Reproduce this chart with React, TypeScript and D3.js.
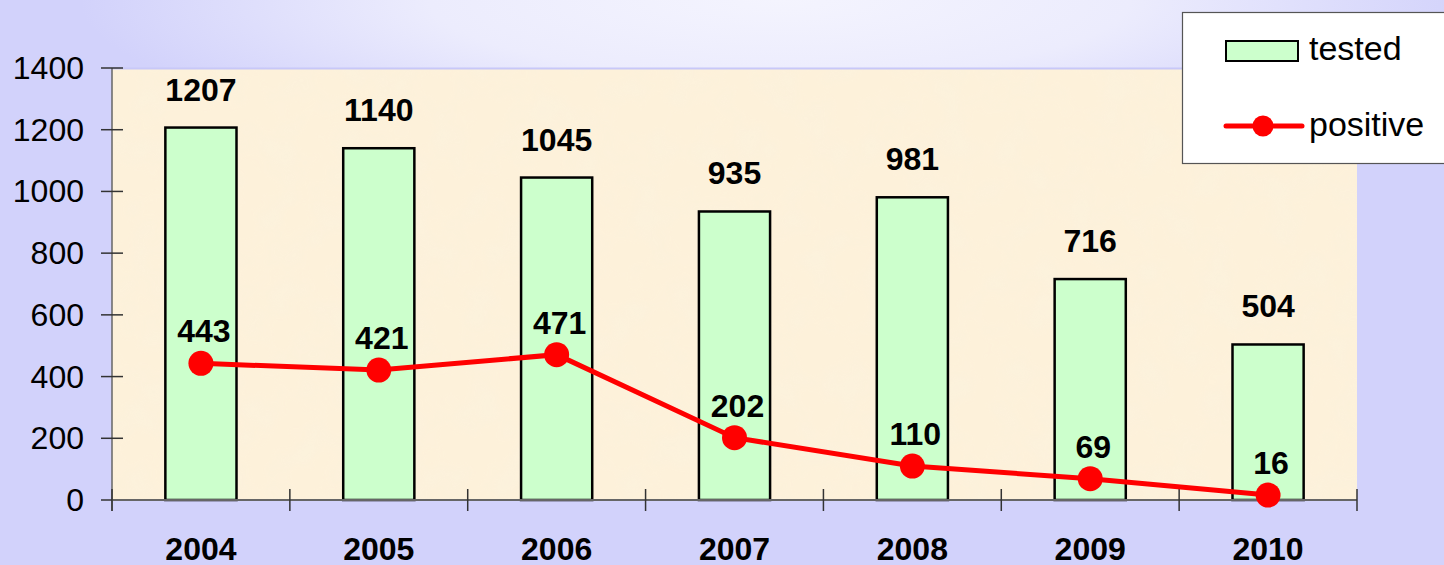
import React from "react";
import * as d3 from "d3";

const years = ["2004", "2005", "2006", "2007", "2008", "2009", "2010"];
const tested = [1207, 1140, 1045, 935, 981, 716, 504];
const positive = [443, 421, 471, 202, 110, 69, 16];
const yTicks = [0, 200, 400, 600, 800, 1000, 1200, 1400];

const W = 1444;
const H = 565;
const M = { left: 112, right: 1357, top: 68, bottom: 500 };
const FONT = "'Liberation Sans', Arial, sans-serif";

export default function App() {
  const x = d3.scaleBand<string>().domain(years).range([M.left, M.right]).paddingInner(0).paddingOuter(0);
  const y = d3.scaleLinear().domain([0, 1400]).range([M.bottom, M.top]);
  const bw = x.bandwidth() * 0.4;
  const cx = (yr: string) => (x(yr) as number) + x.bandwidth() / 2;
  const line = d3
    .line<number>()
    .x((_, i) => cx(years[i]))
    .y((d) => y(d));

  const boundaries = years.map((yr) => x(yr) as number).concat([M.right]);

  return (
    <svg width={W} height={H} style={{ position: "absolute", left: 0, top: 0 }}>
      <defs>
        <radialGradient id="bg" cx="780" cy="0" r="700" gradientUnits="userSpaceOnUse" gradientTransform="translate(780 0) scale(1 0.22) translate(-780 0)">
          <stop offset="0" stopColor="#f4f4fe" />
          <stop offset="0.5" stopColor="#ececfd" />
          <stop offset="1" stopColor="#d2d2fb" />
        </radialGradient>
        <filter id="tex" x="0" y="0" width="100%" height="100%">
          <feTurbulence type="fractalNoise" baseFrequency="0.03" numOctaves="2" seed="3" result="n" />
          <feColorMatrix
            in="n"
            type="matrix"
            values="0 0 0 0 0.96  0 0 0 0 0.89  0 0 0 0 0.74  0 0 0 1.4 -0.55"
            result="c"
          />
          <feComposite in="c" in2="SourceGraphic" operator="in" />
        </filter>
      </defs>
      <rect x={0} y={0} width={W} height={H} fill="#d2d2fb" />
      <rect x={0} y={0} width={W} height={H} fill="url(#bg)" />

      {/* plot area */}
      <rect x={M.left} y={M.top} width={M.right - M.left} height={M.bottom - M.top} fill="#fdf1da" />
      <rect x={M.left} y={M.top} width={M.right - M.left} height={M.bottom - M.top} fill="#fcefd6" filter="url(#tex)" opacity={0.7} />
      <line x1={M.left} x2={M.right} y1={M.top + 0.5} y2={M.top + 0.5} stroke="#c8c8f8" strokeWidth={2} />

      {/* bars */}
      {tested.map((v, i) => (
        <rect
          key={years[i]}
          x={cx(years[i]) - bw / 2}
          y={y(v)}
          width={bw}
          height={y(0) - y(v)}
          fill="#ccffcc"
          stroke="#000"
          strokeWidth={2.5}
        />
      ))}

      {/* axes */}
      <line x1={M.left} x2={M.left} y1={M.top} y2={M.bottom + 11} stroke="#666" strokeWidth={1.5} />
      {yTicks.map((t) => (
        <g key={t}>
          <line x1={M.left - 11} x2={M.left + 11} y1={y(t)} y2={y(t)} stroke="#333" strokeWidth={1.5} />
          <text x={84} y={y(t) + 11} textAnchor="end" fontFamily={FONT} fontSize={32} fill="#000">
            {t}
          </text>
        </g>
      ))}
      <line x1={M.left} x2={M.right} y1={M.bottom} y2={M.bottom} stroke="#666" strokeWidth={2} />
      {boundaries.map((bx, i) => (
        <line key={i} x1={bx} x2={bx} y1={M.bottom - 11} y2={M.bottom + 11} stroke="#333" strokeWidth={1.5} />
      ))}
      {years.map((yr) => (
        <text key={yr} x={cx(yr)} y={560} textAnchor="middle" fontFamily={FONT} fontWeight="bold" fontSize={32} fill="#000">
          {yr}
        </text>
      ))}

      {/* bar labels */}
      {tested.map((v, i) => (
        <text key={years[i]} x={cx(years[i])} y={y(v) - 27} textAnchor="middle" fontFamily={FONT} fontWeight="bold" fontSize={32} fill="#000">
          {v}
        </text>
      ))}

      {/* line */}
      <path d={line(positive) || ""} fill="none" stroke="#ff0000" strokeWidth={5} />
      {positive.map((v, i) => (
        <circle key={years[i]} cx={cx(years[i])} cy={y(v)} r={12.5} fill="#ff0000" />
      ))}
      {positive.map((v, i) => (
        <text key={years[i]} x={cx(years[i]) + 3} y={y(v) - 21} textAnchor="middle" fontFamily={FONT} fontWeight="bold" fontSize={32} fill="#000">
          {v}
        </text>
      ))}

      {/* legend */}
      <rect x={1182.5} y={12.5} width={300} height={151} fill="#ffffff" stroke="#555" strokeWidth={1.2} />
      <rect x={1226} y={41} width={72} height={20} fill="#ccffcc" stroke="#000" strokeWidth={2} />
      <text x={1309} y={60} fontFamily={FONT} fontSize={34} fill="#000">
        tested
      </text>
      <line x1={1226} x2={1302} y1={126} y2={126} stroke="#ff0000" strokeWidth={5} strokeLinecap="round" />
      <circle cx={1263} cy={126} r={10.5} fill="#ff0000" />
      <text x={1309} y={136} fontFamily={FONT} fontSize={34} fill="#000">
        positive
      </text>
    </svg>
  );
}
